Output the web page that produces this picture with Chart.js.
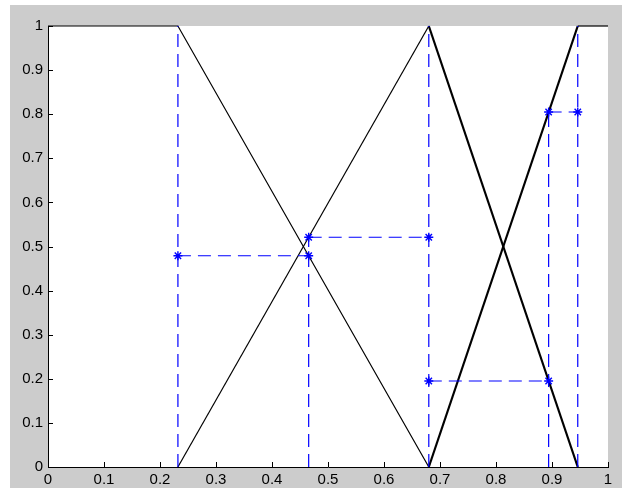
<!DOCTYPE html>
<html><head><meta charset="utf-8">
<script src="https://cdn.jsdelivr.net/npm/chart.js@4"></script>
<style>html,body{margin:0;padding:0;background:#fff;overflow:hidden;}#wrap{width:622px;height:488px;}</style>
</head><body><div id="wrap"><canvas id="c" width="622" height="488"></canvas></div>
<script>
// Tick values / labels
const xTickValues = [0, 0.1, 0.2, 0.3, 0.4, 0.5, 0.6, 0.7, 0.8, 0.9, 1];
const xTickLabels = ['0', '0.1', '0.2', '0.3', '0.4', '0.5', '0.6', '0.7', '0.8', '0.9', '1'];
const yTickValues = [0, 0.1, 0.2, 0.3, 0.4, 0.5, 0.6, 0.7, 0.8, 0.9, 1];
const yTickLabels = ['0', '0.1', '0.2', '0.3', '0.4', '0.5', '0.6', '0.7', '0.8', '0.9', '1'];

// Membership functions (black)
const mf1X = [0, 0.232, 0.680];
const mf1Y = [1, 1, 0];
const mf2UpX = [0.232, 0.680];
const mf2UpY = [0, 1];
const mf2DownX = [0.680, 0.946];
const mf2DownY = [1, 0];
const mf3UpX = [0.680, 0.946];
const mf3UpY = [0, 1];
const mf3TopX = [0.946, 1];
const mf3TopY = [1, 1];

// Blue dashed projections
const cutX = [0.232, 0.4655, 0.680, 0.894, 0.946];
const cutTop = [1, 0.521, 1, 0.805, 1];
const levelY = [0.479, 0.521, 0.195, 0.805];
const levelFromX = [0.232, 0.4655, 0.680, 0.894];
const levelToX = [0.4655, 0.680, 0.894, 0.946];

const BLUE = '#0000ff';
const pts = (xs, ys) => xs.map((x, i) => ({x: x, y: ys[i]}));

const datasets = [];
function blackLine(xs, ys, w) {
  datasets.push({data: pts(xs, ys), borderColor: '#000', borderWidth: w, pointRadius: 0,
    showLine: true, fill: false, tension: 0, order: 5, clip: false});
}
blackLine(mf1X, mf1Y, 1.2);
blackLine(mf2UpX, mf2UpY, 1.2);
blackLine(mf2DownX, mf2DownY, 2.2);
blackLine(mf3UpX, mf3UpY, 2.2);
blackLine(mf3TopX, mf3TopY, 1.2);

cutX.forEach((x, i) => {
  datasets.push({data: pts([x, x], [0, cutTop[i]]), borderColor: BLUE, borderWidth: 1.2,
    borderDash: [13, 7], pointRadius: 0, showLine: true, order: 2, clip: false});
});
levelY.forEach((y, i) => {
  datasets.push({data: pts([levelFromX[i], levelToX[i]], [y, y]), borderColor: BLUE, borderWidth: 1.2,
    borderDash: [13, 7], pointRadius: 4.5, pointStyle: 'star', pointBorderColor: BLUE,
    pointBackgroundColor: BLUE, pointBorderWidth: 1.4, showLine: true, order: 1, clip: false});
});

const bgPlugin = {
  id: 'bg',
  beforeDraw(chart) {
    const ctx = chart.ctx, a = chart.chartArea;
    ctx.save();
    ctx.fillStyle = '#ffffff';
    ctx.fillRect(0, 0, chart.width, chart.height);
    ctx.fillStyle = '#cccccc';
    ctx.fillRect(10, 5, chart.width - 10, chart.height - 5);
    ctx.fillStyle = '#ffffff';
    ctx.fillRect(a.left, a.top, a.right - a.left, a.bottom - a.top);
    ctx.restore();
  },
  beforeDatasetsDraw(chart) {
    const ctx = chart.ctx, a = chart.chartArea;
    const xs = chart.scales.x, ys = chart.scales.y;
    ctx.save();
    ctx.strokeStyle = '#000';
    ctx.lineWidth = 1;
    ctx.beginPath();
    xTickValues.forEach(v => {
      const px = Math.round(xs.getPixelForValue(v)) + 0.5;
      ctx.moveTo(px, a.bottom);
      ctx.lineTo(px, a.bottom - 5);
    });
    yTickValues.forEach(v => {
      const py = Math.round(ys.getPixelForValue(v)) + 0.5;
      ctx.moveTo(a.left, py);
      ctx.lineTo(a.left + 5, py);
    });
    ctx.stroke();
    ctx.restore();
  }
};

const font = {family: '"Liberation Sans", Arial, sans-serif', size: 15};

new Chart(document.getElementById('c'), {
  type: 'scatter',
  data: {datasets: datasets},
  options: {
    responsive: false,
    animation: false,
    devicePixelRatio: 1,
    layout: {padding: {top: 26, right: 14, left: 0, bottom: 0}},
    plugins: {legend: {display: false}, tooltip: {enabled: false}},
    scales: {
      x: {
        type: 'linear', min: 0, max: 1,
        afterFit(s) { s.height = 21; },
        afterBuildTicks(s) { s.ticks = xTickValues.map(v => ({value: v})); },
        ticks: {color: '#000', font: font, padding: 4, maxRotation: 0, autoSkip: false,
          callback: (v, i) => xTickLabels[i]},
        grid: {display: false, drawTicks: false},
        border: {display: true, color: '#000', width: 1}
      },
      y: {
        type: 'linear', min: 0, max: 1,
        afterFit(s) { s.width = 48; },
        afterBuildTicks(s) { s.ticks = yTickValues.map(v => ({value: v})); },
        ticks: {color: '#000', font: font, padding: 5, autoSkip: false,
          callback: (v, i) => yTickLabels[i]},
        grid: {display: false, drawTicks: false},
        border: {display: true, color: '#000', width: 1}
      }
    }
  },
  plugins: [bgPlugin]
});
</script>
</body></html>
